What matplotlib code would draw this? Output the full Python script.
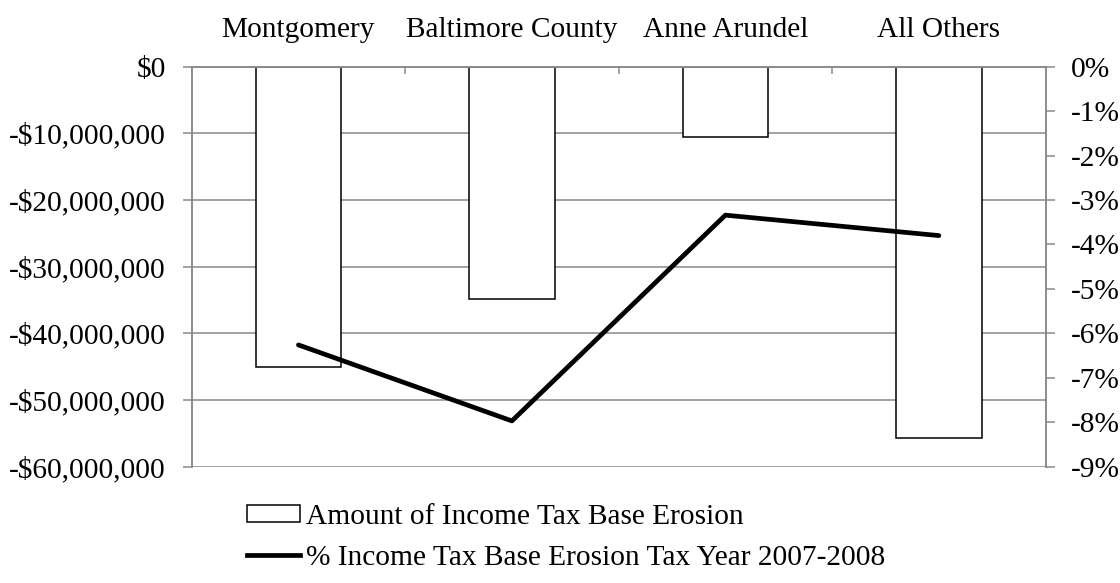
import matplotlib.pyplot as plt
from matplotlib.patches import Patch
from matplotlib.lines import Line2D
from matplotlib.ticker import FuncFormatter, FixedLocator

# data
counties = ["Montgomery", "Baltimore County", "Anne Arundel", "All Others"]
erosion_amount = [-45100000, -34900000, -10600000, -55700000]
erosion_pct = [-6.26, -7.97, -3.34, -3.80]

plt.rcParams['font.family'] = ['Liberation Serif', 'DejaVu Serif']
plt.rcParams['font.size'] = 21.2
grey = '#898989'

fig = plt.figure(figsize=(11.2, 5.83), dpi=100)
ax = fig.add_axes([191.7 / 1120, 1 - 466.7 / 583, (1045.6 - 191.7) / 1120, 400 / 583])
ax2 = ax.twinx()

x = list(range(len(counties)))

# bars
ax.bar(x, erosion_amount, width=0.4, color='white', edgecolor='black', linewidth=1.1, zorder=2)
ax.set_xlim(-0.5, len(counties) - 0.5)
ax.set_ylim(-60000000, 0)
ax.set_yticks(range(-60000000, 1, 10000000))
ax.yaxis.set_major_formatter(FuncFormatter(lambda v, p: "$0" if v == 0 else "-${:,.0f}".format(abs(v))))
ax.grid(axis='y', color=grey, linewidth=1.1)
ax.set_axisbelow(True)

# category labels on top, ticks between categories
ax.xaxis.tick_top()
ax.xaxis.set_major_locator(FixedLocator([0.5, 1.5, 2.5]))
ax.xaxis.set_major_formatter(FuncFormatter(lambda v, p: ""))
ax.xaxis.set_minor_locator(FixedLocator(x))
ax.set_xticklabels(counties, minor=True)
ax.tick_params(axis='x', which='major', direction='in', length=5, color=grey, width=1.1, top=True, bottom=False)
ax.tick_params(axis='x', which='minor', length=0, pad=17, top=True, bottom=False, labeltop=True, labelbottom=False)
ax.tick_params(axis='y', length=6.5, color=grey, width=1.1, pad=12)

# percent line
ax2.plot(x, erosion_pct, color='black', linewidth=3.4, solid_capstyle='round', zorder=3)
ax2.set_ylim(-9, 0)
ax2.set_yticks(range(-9, 1))
ax2.yaxis.set_major_formatter(FuncFormatter(lambda v, p: "{:.0f}%".format(v)))
ax2.tick_params(axis='y', length=6.5, color=grey, width=1.1, pad=12)

for a in (ax, ax2):
    for s in a.spines.values():
        s.set_color(grey)
        s.set_linewidth(1.1)
    a.spines['bottom'].set_visible(False)

handles = [Patch(facecolor='white', edgecolor='black', linewidth=1.1),
           Line2D([0], [0], color='black', linewidth=3.4)]
labels = ["Amount of Income Tax Base Erosion", "% Income Tax Base Erosion Tax Year 2007-2008"]
fig.legend(handles, labels, loc='upper left', bbox_to_anchor=(246.7 / 1120, 1 - 504 / 583),
           frameon=False, borderpad=0, borderaxespad=0, handlelength=1.8, handleheight=0.52,
           handletextpad=0.2, labelspacing=0.5)

fig.savefig("out.png", dpi=100)
